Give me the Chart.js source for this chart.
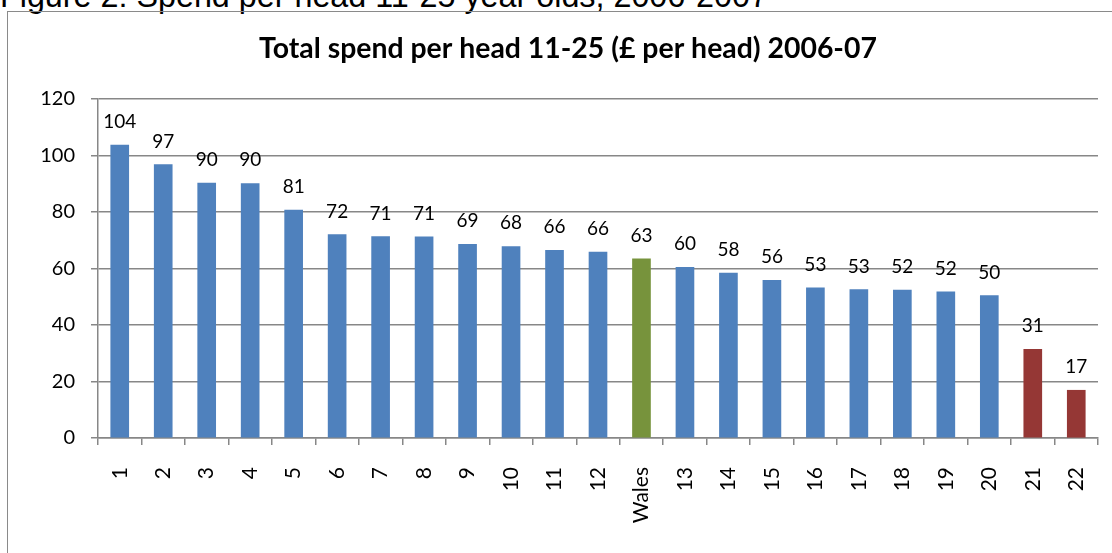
<!DOCTYPE html>
<html>
<head>
<meta charset="utf-8">
<script src="https://cdn.jsdelivr.net/npm/chart.js@4.4.1/dist/chart.umd.min.js"></script>
<style>
  html, body { margin: 0; padding: 0; width: 1112px; height: 553px; overflow: hidden; background: #fff; }
  #caption { position: absolute; left: 0; top: -20px; font-family: "Liberation Sans", Arial, sans-serif; font-size: 32.3px; line-height: 32px; color: #000; white-space: nowrap; }
  #frame { position: absolute; left: 7px; top: 11px; width: 1140px; height: 600px; border: 1.5px solid #8a8a8a; }
  #wrap { position: absolute; left: 8px; top: 13px; width: 1120px; height: 540px; }
</style>
</head>
<body>
<div id="caption">Figure 2: Spend per head 11-25 year olds, 2006-2007</div>
<div id="frame"></div>
<div id="wrap"><canvas id="c" width="1120" height="540"></canvas></div>
<script>
const categories = ["1","2","3","4","5","6","7","8","9","10","11","12","Wales","13","14","15","16","17","18","19","20","21","22"];
const spendPerHead = [103.7, 96.8, 90.2, 90.1, 80.7, 72.0, 71.3, 71.2, 68.6, 67.8, 66.4, 65.8, 63.4, 60.4, 58.4, 55.8, 53.2, 52.5, 52.4, 51.7, 50.4, 31.4, 16.9];
const barGroup = ["la","la","la","la","la","la","la","la","la","la","la","la","wales","la","la","la","la","la","la","la","la","low","low"];
const yTicks = [0, 20, 40, 60, 80, 100, 120];
const chartTitle = "Total spend per head 11-25 (\u00a3 per head) 2006-07";

const groupColors = { la: "#4F81BD", wales: "#77933C", low: "#953735" };
const FONT = "Lato, Carlito, Calibri, sans-serif";

const labelsPlugin = {
  id: "barLabels",
  afterDatasetsDraw(chart) {
    const ctx = chart.ctx;
    const meta = chart.getDatasetMeta(0);
    ctx.save();
    ctx.fillStyle = "#000";
    ctx.font = "19px " + FONT;
    ctx.textAlign = "center";
    ctx.textBaseline = "alphabetic";
    meta.data.forEach((bar, i) => {
      ctx.fillText(String(Math.round(spendPerHead[i])), bar.x, bar.y - 17);
    });
    ctx.font = "bold 28.4px " + FONT;
    ctx.fillText(chartTitle, chart.width / 2, 45);
    ctx.restore();
  }
};

new Chart(document.getElementById("c"), {
  type: "bar",
  data: {
    labels: categories,
    datasets: [{
      data: spendPerHead,
      backgroundColor: barGroup.map(g => groupColors[g]),
      borderWidth: 0,
      barThickness: 18
    }]
  },
  options: {
    responsive: false,
    animation: false,
    layout: { padding: { top: 86, right: 30, left: 0, bottom: 0 } },
    plugins: { legend: { display: false }, tooltip: { enabled: false }, title: { display: false } },
    scales: {
      x: {
        offset: true,
        grid: { offset: true, drawOnChartArea: false, drawTicks: true, tickLength: 7, color: "#878787", lineWidth: 1.5 },
        border: { display: true, color: "#878787", width: 1.5 },
        ticks: { color: "#000", font: { family: FONT, size: 21 }, minRotation: 90, maxRotation: 90, autoSkip: false, padding: 22 },
        afterFit(s) { s.height = 115; }
      },
      y: {
        min: 0, max: 120,
        afterBuildTicks(s) { s.ticks = yTicks.map(v => ({ value: v })); },
        grid: { color: "#878787", lineWidth: 1.5, tickLength: 7, drawTicks: true },
        border: { display: true, color: "#878787", width: 1.5 },
        ticks: { color: "#000", font: { family: FONT, size: 20 }, padding: 16 },
        afterFit(s) { s.width = 90; }
      }
    }
  },
  plugins: [labelsPlugin]
});
</script>
</body>
</html>
